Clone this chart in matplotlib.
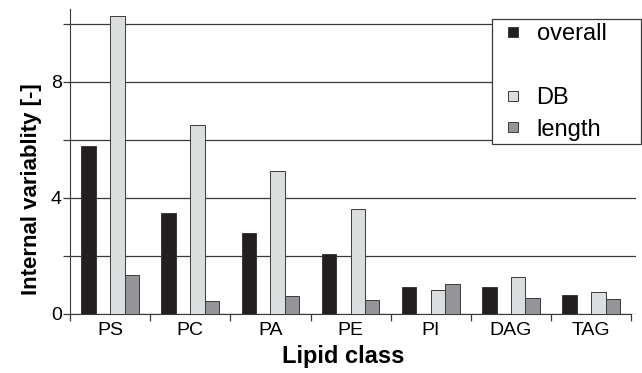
import numpy as np
import matplotlib.pyplot as plt
from matplotlib.lines import Line2D
from matplotlib.patches import Rectangle

plt.rcParams['font.family'] = ['Liberation Sans', 'DejaVu Sans']

classes = ['PS', 'PC', 'PA', 'PE', 'PI', 'DAG', 'TAG']
overall = [5.80, 3.49, 2.79, 2.07, 0.92, 0.92, 0.64]
db = [10.27, 6.52, 4.92, 3.62, 0.82, 1.27, 0.75]
length = [1.34, 0.44, 0.63, 0.48, 1.02, 0.56, 0.52]

c_overall = '#231f20'
c_db = '#dcdddf'
c_len = '#939598'
edge = '#3a3a3a'

W, H = 642, 373
fig = plt.figure(figsize=(W/100, H/100), dpi=100)
ax = fig.add_axes([70/W, 1-314/H, 566/W, 305/H])

x = np.arange(len(classes))
w = 0.18
ax.bar(x - 0.27, overall, w, color=c_overall, edgecolor=edge, linewidth=0.7, zorder=3)
ax.bar(x + 0.09, db, w, color=c_db, edgecolor=edge, linewidth=0.7, zorder=3)
ax.bar(x + 0.27, length, w, color=c_len, edgecolor=edge, linewidth=0.7, zorder=3)

ax.set_xlim(-0.5, 6.56)
ax.set_ylim(0, 10.5)

ax.set_yticks(np.arange(0, 11, 2))
ax.set_yticklabels(['0', '', '4', '', '8', ''])
ax.yaxis.grid(True, color='#3a3a3a', linewidth=0.9, zorder=0)

ax.set_xticks(x)
ax.set_xticklabels(classes)
ax.set_xticks(np.arange(-0.5, 7, 1), minor=True)
ax.tick_params(axis='x', which='major', length=0, labelsize=14, pad=5.5)
ax.tick_params(axis='x', which='minor', length=5, width=0.9, color='#3a3a3a', direction='out')
ax.tick_params(axis='y', length=5, width=0.9, color='#3a3a3a', labelsize=14, pad=1)

for s in ['top', 'right']:
    ax.spines[s].set_visible(False)
ax.spines['left'].set_color('#3a3a3a')
ax.spines['bottom'].set_color('#3a3a3a')
ax.spines['bottom'].set_bounds(-0.5, 6.5)

ax.set_ylabel('Internal variablity [-]', fontsize=16, fontweight='bold')
ax.yaxis.set_label_coords(-0.05, 0.41)
ax.set_xlabel('Lipid class', fontsize=17, fontweight='bold')
ax.xaxis.set_label_coords(0.482, -0.1)

# legend frame (white box covering the grid)
fig.patches.append(Rectangle((492/W, 1-144/H), 149/W, 125/H, transform=fig.transFigure,
                             facecolor='white', edgecolor='#3a3a3a', linewidth=0.9, zorder=4))

def sq(c):
    return Line2D([], [], linestyle='none', marker='s', markersize=6.5,
                  markerfacecolor=c, markeredgecolor=edge, markeredgewidth=0.7)

handles = [sq(c_overall), Line2D([], [], linestyle='none'), sq(c_db), sq(c_len)]
labels = ['overall', ' ', 'DB', 'length']
leg = fig.legend(handles, labels, loc='upper left', bbox_to_anchor=(494/W, 1-23/H),
                 fontsize=17, frameon=False, handlelength=1.6, handletextpad=0.2,
                 labelspacing=0.42, borderpad=0, borderaxespad=0)
leg.set_zorder(6)

fig.savefig('out.png', dpi=100)
